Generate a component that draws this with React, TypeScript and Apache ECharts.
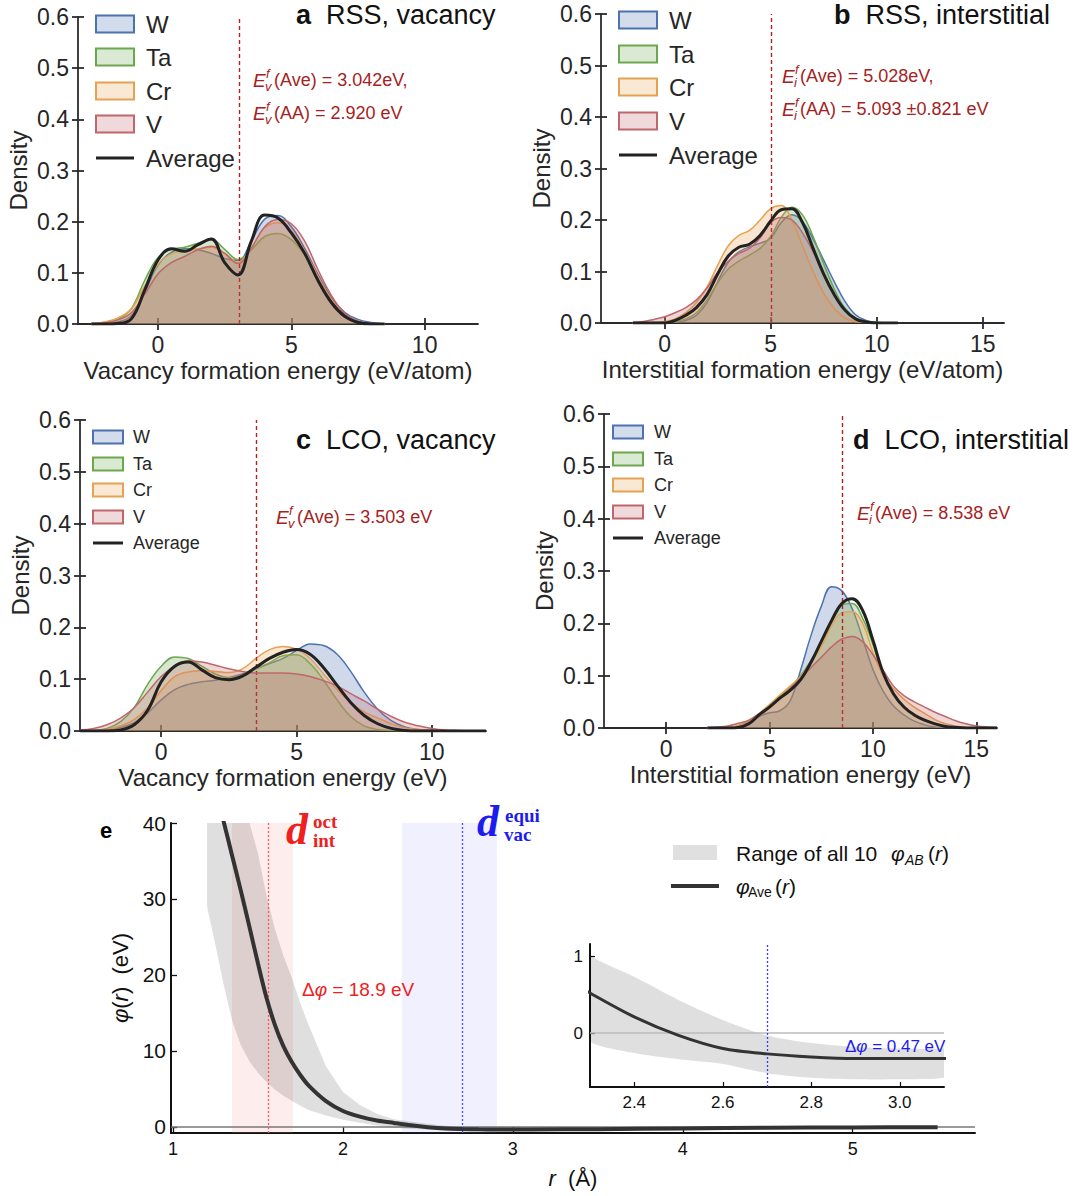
import React, { useEffect, useRef } from 'react';
import * as echarts from 'echarts';

const FONT = '"Liberation Sans", Arial, Helvetica, sans-serif';
const SERIF = '"Liberation Serif", "DejaVu Serif", serif';

const ELEMENTS = ['W', 'Ta', 'Cr', 'V'];
const EL_COLORS = ['#4c72b0', '#6ca74e', '#e6a253', '#c0676c'];

// ---------- panel a : RSS vacancy ----------
const A_X = [-2.5, -2, -1.5, -1, -0.5, 0, 0.5, 1, 1.5, 2, 2.5, 3, 3.5, 4, 4.5, 5, 5.5, 6, 6.5, 7, 7.5, 8, 8.5];
const A_W = [0, 0.001, 0.004, 0.016, 0.062, 0.115, 0.14, 0.147, 0.145, 0.138, 0.128, 0.124, 0.162, 0.205, 0.212, 0.19, 0.148, 0.097, 0.052, 0.023, 0.009, 0.003, 0];
const A_TA = [0.001, 0.003, 0.009, 0.03, 0.085, 0.13, 0.146, 0.15, 0.158, 0.165, 0.146, 0.126, 0.145, 0.171, 0.177, 0.165, 0.135, 0.09, 0.048, 0.018, 0.005, 0.001, 0];
const A_CR = [0.001, 0.004, 0.012, 0.03, 0.074, 0.117, 0.137, 0.143, 0.147, 0.15, 0.138, 0.12, 0.15, 0.188, 0.198, 0.182, 0.142, 0.093, 0.048, 0.018, 0.005, 0.001, 0];
const A_V = [0, 0.002, 0.008, 0.022, 0.058, 0.098, 0.12, 0.132, 0.145, 0.152, 0.138, 0.118, 0.148, 0.19, 0.204, 0.196, 0.162, 0.106, 0.056, 0.021, 0.006, 0.001, 0];
const A_AVG = [0, 0, 0.001, 0.01, 0.066, 0.125, 0.147, 0.142, 0.155, 0.166, 0.12, 0.096, 0.162, 0.213, 0.207, 0.178, 0.138, 0.085, 0.042, 0.015, 0.003, 0, 0];

// ---------- panel b : RSS interstitial ----------
const B_X = [-1.5, -1, -0.5, 0, 0.5, 1, 1.5, 2, 2.5, 3, 3.5, 4, 4.5, 5, 5.5, 6, 6.5, 7, 7.5, 8, 8.5, 9, 9.5, 10, 10.5, 11];
const B_W = [0, 0, 0, 0.001, 0.002, 0.005, 0.015, 0.04, 0.08, 0.118, 0.138, 0.148, 0.155, 0.165, 0.195, 0.21, 0.197, 0.163, 0.122, 0.08, 0.042, 0.016, 0.005, 0.001, 0, 0];
const B_TA = [0, 0, 0, 0.001, 0.003, 0.008, 0.02, 0.045, 0.078, 0.105, 0.12, 0.132, 0.145, 0.168, 0.205, 0.225, 0.21, 0.168, 0.115, 0.066, 0.029, 0.01, 0.003, 0.001, 0, 0];
const B_CR = [0, 0, 0.001, 0.003, 0.008, 0.02, 0.04, 0.07, 0.112, 0.15, 0.17, 0.18, 0.2, 0.222, 0.228, 0.2, 0.15, 0.1, 0.058, 0.028, 0.01, 0.003, 0.001, 0, 0, 0];
const B_V = [0.001, 0.003, 0.007, 0.012, 0.02, 0.03, 0.045, 0.068, 0.098, 0.12, 0.135, 0.145, 0.165, 0.195, 0.205, 0.2, 0.175, 0.138, 0.095, 0.055, 0.025, 0.008, 0.002, 0, 0, 0];
const B_AVG = [0, 0, 0, 0, 0.005, 0.015, 0.03, 0.055, 0.095, 0.13, 0.147, 0.153, 0.17, 0.198, 0.22, 0.222, 0.195, 0.145, 0.095, 0.055, 0.025, 0.008, 0.002, 0, 0, 0];

// ---------- panel c : LCO vacancy ----------
const C_X = [-3, -2.5, -2, -1.5, -1, -0.5, 0, 0.5, 1, 1.5, 2, 2.5, 3, 3.5, 4, 4.5, 5, 5.5, 6, 6.5, 7, 7.5, 8, 8.5, 9, 9.5, 10, 10.5, 11, 11.5, 12];
const C_W = [0, 0, 0.002, 0.007, 0.016, 0.035, 0.06, 0.08, 0.09, 0.095, 0.098, 0.103, 0.11, 0.12, 0.13, 0.14, 0.155, 0.168, 0.165, 0.148, 0.115, 0.075, 0.042, 0.02, 0.008, 0.003, 0.001, 0, 0, 0, 0];
const C_TA = [0, 0.001, 0.005, 0.018, 0.045, 0.09, 0.125, 0.143, 0.14, 0.125, 0.11, 0.103, 0.107, 0.12, 0.132, 0.145, 0.147, 0.13, 0.098, 0.06, 0.028, 0.01, 0.003, 0.001, 0, 0, 0, 0, 0, 0, 0];
const C_CR = [0, 0.001, 0.003, 0.01, 0.022, 0.045, 0.078, 0.105, 0.114, 0.116, 0.115, 0.113, 0.12, 0.14, 0.157, 0.163, 0.158, 0.14, 0.11, 0.08, 0.055, 0.037, 0.025, 0.014, 0.006, 0.003, 0.001, 0, 0, 0, 0];
const C_V = [0.002, 0.005, 0.012, 0.025, 0.045, 0.075, 0.105, 0.125, 0.135, 0.133, 0.127, 0.12, 0.115, 0.112, 0.112, 0.112, 0.11, 0.105, 0.097, 0.087, 0.072, 0.058, 0.042, 0.028, 0.017, 0.01, 0.005, 0.002, 0.001, 0, 0];
const C_AVG = [0, 0, 0, 0.002, 0.012, 0.04, 0.095, 0.125, 0.133, 0.118, 0.103, 0.099, 0.106, 0.123, 0.14, 0.152, 0.157, 0.148, 0.122, 0.088, 0.055, 0.03, 0.014, 0.005, 0.001, 0, 0, 0, 0, 0, 0];

// ---------- panel d : LCO interstitial ----------
const D_X = [2, 2.5, 3, 3.5, 4, 4.5, 5, 5.5, 6, 6.5, 7, 7.5, 8, 8.5, 9, 9.5, 10, 10.5, 11, 11.5, 12, 12.5, 13, 13.5, 14, 14.5, 15, 15.5, 16];
const D_W = [0, 0, 0, 0.002, 0.012, 0.022, 0.029, 0.033, 0.052, 0.11, 0.176, 0.232, 0.27, 0.262, 0.228, 0.172, 0.112, 0.07, 0.042, 0.025, 0.013, 0.006, 0.002, 0.001, 0, 0, 0, 0, 0];
const D_TA = [0, 0, 0.001, 0.004, 0.012, 0.025, 0.042, 0.06, 0.078, 0.1, 0.128, 0.165, 0.205, 0.235, 0.238, 0.21, 0.16, 0.1, 0.064, 0.04, 0.025, 0.015, 0.008, 0.003, 0.001, 0, 0, 0, 0];
const D_CR = [0, 0, 0.001, 0.005, 0.014, 0.028, 0.045, 0.063, 0.08, 0.098, 0.125, 0.155, 0.195, 0.22, 0.222, 0.2, 0.145, 0.1, 0.075, 0.055, 0.04, 0.028, 0.016, 0.008, 0.004, 0.001, 0, 0, 0];
const D_V = [0.001, 0.002, 0.004, 0.009, 0.015, 0.027, 0.041, 0.057, 0.076, 0.095, 0.115, 0.135, 0.155, 0.17, 0.175, 0.165, 0.14, 0.11, 0.08, 0.062, 0.05, 0.04, 0.03, 0.022, 0.014, 0.008, 0.004, 0.002, 0.001];
const D_AVG = [0, 0, 0, 0.001, 0.008, 0.025, 0.04, 0.057, 0.072, 0.092, 0.125, 0.165, 0.205, 0.238, 0.247, 0.225, 0.168, 0.105, 0.065, 0.04, 0.025, 0.015, 0.008, 0.003, 0.001, 0, 0, 0, 0];

// ---------- panel e : pair potentials ----------
const E_R = [1.2, 1.25, 1.3, 1.35, 1.4, 1.45, 1.5, 1.55, 1.6, 1.65, 1.7, 1.75, 1.8, 1.9, 2.0, 2.1, 2.2, 2.3, 2.4, 2.5, 2.6, 2.7, 2.8, 2.9, 3.0, 3.1, 3.5, 4.0, 4.5, 5.0, 5.5];
const E_AVG = [50, 44.5, 40, 35.5, 31, 26.3, 21.5, 17, 13.4, 10.6, 8.5, 6.8, 5.4, 3.4, 2.1, 1.35, 0.85, 0.52, 0.21, -0.03, -0.2, -0.27, -0.31, -0.33, -0.33, -0.33, -0.3, -0.2, -0.12, -0.07, -0.04];
const E_UP = [70, 64, 58, 52, 47, 42, 36, 30.5, 26, 22.5, 19.6, 16.2, 13.3, 8.0, 4.6, 2.9, 1.75, 1.01, 0.73, 0.43, 0.17, -0.03, -0.13, -0.18, -0.2, -0.2, -0.15, -0.1, -0.06, -0.03, -0.02];
const E_LO = [29, 23.9, 18.5, 13.8, 10.7, 8.6, 7.1, 5.9, 4.9, 4.1, 3.4, 2.8, 2.2, 1.5, 0.95, 0.55, 0.2, -0.11, -0.26, -0.34, -0.4, -0.52, -0.58, -0.6, -0.6, -0.58, -0.5, -0.35, -0.2, -0.12, -0.08];
const E_OCT = [1.347, 1.706];
const E_OCT_LINE = 1.56;
const E_VAC = [2.347, 2.906];
const E_VAC_LINE = 2.7;

const KDE_TICKS_Y = [0, 0.1, 0.2, 0.3, 0.4, 0.5, 0.6];

const GRIDS = [
  { left: 78, top: 17, width: 400, height: 307 },
  { left: 601, top: 14, width: 403, height: 309 },
  { left: 80, top: 420, width: 406, height: 311 },
  { left: 604, top: 414, width: 393, height: 314 },
  { left: 171, top: 823, width: 804, height: 310 },
  { left: 590, top: 944, width: 354, height: 143 },
];

const KDE_PANELS = [
  { xMin: -3, xMax: 12, xTicks: [0, 5, 10], xName: 'Vacancy formation energy (eV/atom)', xs: A_X, ys: [A_W, A_TA, A_CR, A_V], avg: A_AVG, vline: 3.042 },
  { xMin: -3, xMax: 16, xTicks: [0, 5, 10, 15], xName: 'Interstitial formation energy (eV/atom)', xs: B_X, ys: [B_W, B_TA, B_CR, B_V], avg: B_AVG, vline: 5.028 },
  { xMin: -3, xMax: 12, xTicks: [0, 5, 10], xName: 'Vacancy formation energy (eV)', xs: C_X, ys: [C_W, C_TA, C_CR, C_V], avg: C_AVG, vline: 3.503 },
  { xMin: -3, xMax: 16, xTicks: [0, 5, 10, 15], xName: 'Interstitial formation energy (eV)', xs: D_X, ys: [D_W, D_TA, D_CR, D_V], avg: D_AVG, vline: 8.538 },
];

const zip = (xs: number[], ys: number[]) => xs.map((x, i) => [x, ys[i]]);
const rgba = (hex: string, a: number) => {
  const n = parseInt(hex.slice(1), 16);
  return `rgba(${(n >> 16) & 255},${(n >> 8) & 255},${n & 255},${a})`;
};

const T = (x: number, y: number, text: string, o: any = {}) => ({
  type: 'text',
  x,
  y,
  silent: true,
  z: 100,
  style: {
    text,
    fill: o.fill ?? '#222',
    fontSize: o.size ?? 18,
    fontFamily: o.family ?? FONT,
    fontWeight: o.weight ?? 'normal',
    fontStyle: o.style ?? 'normal',
    align: o.align ?? 'left',
    textAlign: o.align ?? 'left',
    verticalAlign: o.va ?? 'middle',
    textVerticalAlign: o.va ?? 'middle',
    rich: o.rich,
  },
});

const AX = '#2b2b2b';
const TXT = '#262626';
const DARKRED = '#a52222';

function bandSeries(ax: number) {
  return {
    type: 'custom',
    name: 'Range of all 10 φAB(r)',
    xAxisIndex: ax,
    yAxisIndex: ax,
    silent: true,
    clip: true,
    z: 2,
    data: E_R.map((r, i) => [r, E_LO[i], E_UP[i]]),
    encode: { x: 0, y: [1, 2] },
    renderItem: (params: any, api: any) => {
      if (params.dataIndex !== 0) return null;
      const cs = params.coordSys;
      const rect = { x: cs.x, y: cs.y, width: cs.width, height: cs.height };
      const upper = E_R.map((r, i) => api.coord([r, E_UP[i]]));
      const lower = E_R.map((r, i) => api.coord([r, E_LO[i]])).reverse();
      const pts = echarts.graphic.clipPointsByRect(upper.concat(lower), rect);
      return {
        type: 'polygon',
        shape: { points: pts, smooth: ax === 9 ? 0.25 : 0 },
        style: { fill: 'rgba(0,0,0,0.125)' },
      };
    },
  };
}

function buildOption() {
  const xAxis: any[] = [];
  const yAxis: any[] = [];
  const series: any[] = [];
  const graphic: any[] = [];

  KDE_PANELS.forEach((p, i) => {
    const lab = { fontSize: 23, color: TXT, fontFamily: FONT };
    const tickStyle = { color: AX, width: 1.8 };
    xAxis.push({
      gridIndex: i, type: 'value', min: p.xMin, max: p.xMax, position: 'bottom',
      axisLine: { show: true, onZero: false, lineStyle: tickStyle },
      axisTick: { show: true, inside: false, length: 6, customValues: p.xTicks, lineStyle: tickStyle },
      axisLabel: { show: true, customValues: p.xTicks, margin: 9, ...lab },
      splitLine: { show: false },
      name: p.xName, nameLocation: 'middle', nameGap: 34,
      nameTextStyle: { fontSize: 24, color: TXT, fontFamily: FONT },
    });
    xAxis.push({
      gridIndex: i, type: 'value', min: p.xMin, max: p.xMax, position: 'bottom',
      axisLine: { show: false, onZero: false },
      axisTick: { show: true, inside: true, length: 6, customValues: p.xTicks, lineStyle: tickStyle },
      axisLabel: { show: false }, splitLine: { show: false },
    });
    yAxis.push({
      gridIndex: i, type: 'value', min: 0, max: 0.6, position: 'left',
      axisLine: { show: true, onZero: false, lineStyle: tickStyle },
      axisTick: { show: true, inside: false, length: 6, customValues: KDE_TICKS_Y, lineStyle: tickStyle },
      axisLabel: { show: true, customValues: KDE_TICKS_Y, margin: 9, formatter: (v: number) => v.toFixed(1), ...lab },
      splitLine: { show: false },
      name: 'Density', nameLocation: 'middle', nameGap: 48, nameRotate: 90,
      nameTextStyle: { fontSize: 24, color: TXT, fontFamily: FONT },
    });
    yAxis.push({
      gridIndex: i, type: 'value', min: 0, max: 0.6, position: 'left',
      axisLine: { show: false, onZero: false },
      axisTick: { show: true, inside: true, length: 6, customValues: KDE_TICKS_Y, lineStyle: tickStyle },
      axisLabel: { show: false }, splitLine: { show: false },
    });

    ELEMENTS.forEach((el, k) => {
      series.push({
        type: 'line', name: el, xAxisIndex: 2 * i, yAxisIndex: 2 * i,
        data: zip(p.xs, p.ys[k]), smooth: 0.4, symbol: 'none', silent: true,
        lineStyle: { color: EL_COLORS[k], width: 1.5 },
        areaStyle: { color: EL_COLORS[k], opacity: 0.27 },
        z: 2 + k,
      });
    });
    series.push({
      type: 'line', name: 'Average', xAxisIndex: 2 * i, yAxisIndex: 2 * i,
      data: zip(p.xs, p.avg), smooth: 0.4, symbol: 'none', silent: true,
      lineStyle: { color: '#222', width: 3 }, z: 10,
      markLine: {
        silent: true, symbol: ['none', 'none'], label: { show: false },
        lineStyle: { color: '#b22222', type: [4, 3], width: 1.4 },
        data: [{ xAxis: p.vline }],
      },
    });
  });

  // ----- panel e main axes (index 8) -----
  const eLine = { color: '#111', width: 2 };
  xAxis.push({
    gridIndex: 4, type: 'value', min: 0.988, max: 5.72, position: 'bottom',
    axisLine: { show: true, onZero: false, lineStyle: eLine },
    axisTick: { show: true, inside: true, length: 6, customValues: [1, 2, 3, 4, 5], lineStyle: { color: '#111', width: 1.3 } },
    axisLabel: { customValues: [1, 2, 3, 4, 5], fontSize: 18, color: '#111', fontFamily: FONT, margin: 7 },
    splitLine: { show: false },
    name: '{i|r}  (Å)', nameLocation: 'middle', nameGap: 34,
    nameTextStyle: { fontSize: 22, color: '#111', fontFamily: FONT, rich: { i: { fontStyle: 'italic', fontSize: 22, color: '#111', fontFamily: FONT } } },
  });
  yAxis.push({
    gridIndex: 4, type: 'value', min: -0.8, max: 40, position: 'left',
    axisLine: { show: true, onZero: false, lineStyle: eLine },
    axisTick: { show: true, inside: true, length: 6, customValues: [0, 10, 20, 30, 40], lineStyle: { color: '#111', width: 1.3 } },
    axisLabel: { customValues: [0, 10, 20, 30, 40], fontSize: 21, color: '#111', fontFamily: FONT, margin: 5 },
    splitLine: { show: false },
    name: '{i|φ}({i|r})  (eV)', nameLocation: 'middle', nameGap: 34, nameRotate: 90,
    nameTextStyle: { fontSize: 22, color: '#111', fontFamily: FONT, rich: { i: { fontStyle: 'italic', fontSize: 22, color: '#111', fontFamily: FONT } } },
  });
  // ----- inset axes (index 9) -----
  xAxis.push({
    gridIndex: 5, type: 'value', min: 2.3, max: 3.1, position: 'bottom',
    axisLine: { show: true, onZero: false, lineStyle: eLine },
    axisTick: { show: true, inside: true, length: 5, customValues: [2.4, 2.6, 2.8, 3.0], lineStyle: { color: '#111', width: 1.2 } },
    axisLabel: { customValues: [2.4, 2.6, 2.8, 3.0], fontSize: 17, color: '#111', fontFamily: FONT, margin: 7, formatter: (v: number) => v.toFixed(1) },
    splitLine: { show: false },
  });
  yAxis.push({
    gridIndex: 5, type: 'value', min: -0.7, max: 1.156, position: 'left',
    axisLine: { show: true, onZero: false, lineStyle: eLine },
    axisTick: { show: true, inside: true, length: 5, customValues: [0, 1], lineStyle: { color: '#111', width: 1.2 } },
    axisLabel: { customValues: [0, 1], fontSize: 17, color: '#111', fontFamily: FONT, margin: 7 },
    splitLine: { show: false },
  });

  [8, 9].forEach((ax) => {
    const isMain = ax === 8;
    series.push(bandSeries(ax));
    series.push({
      type: 'line', name: 'φAve(r)', xAxisIndex: ax, yAxisIndex: ax, data: zip(E_R, E_AVG),
      smooth: 0.3, symbol: 'none', silent: true,
      lineStyle: { color: '#333', width: isMain ? 4 : 3 }, z: 5,
      markArea: isMain ? {
        silent: true,
        data: [
          [{ xAxis: E_OCT[0], itemStyle: { color: 'rgba(250,140,140,0.16)' } }, { xAxis: E_OCT[1] }],
          [{ xAxis: E_VAC[0], itemStyle: { color: 'rgba(130,130,245,0.12)' } }, { xAxis: E_VAC[1] }],
        ],
      } : undefined,
      markLine: {
        silent: true, symbol: ['none', 'none'], label: { show: false },
        data: isMain ? [
          { yAxis: 0, lineStyle: { color: '#777', type: 'solid', width: 1.5 } },
          { xAxis: E_OCT_LINE, lineStyle: { color: '#ff5a5a', type: [2, 2], width: 1.3 } },
          { xAxis: E_VAC_LINE, lineStyle: { color: '#4a4aff', type: [2, 2], width: 1.3 } },
        ] : [
          { yAxis: 0, lineStyle: { color: '#bbbbbb', type: 'solid', width: 1.5 } },
          { xAxis: E_VAC_LINE, lineStyle: { color: '#3a3aff', type: [2, 2], width: 1.3 } },
        ],
      },
    });
  });

  // ----- legends (graphic) -----
  const LEGENDS = [
    { x: 96, ys: [24, 57, 91, 124, 158], w: 38, h: 17, tx: 146, fs: 24 },
    { x: 619, ys: [20, 54, 87, 121, 155], w: 38, h: 17, tx: 669, fs: 24 },
    { x: 93, ys: [437, 464, 490, 517, 543], w: 30, h: 13, tx: 133, fs: 18 },
    { x: 613, ys: [432, 459, 485, 512, 538], w: 30, h: 13, tx: 654, fs: 18 },
  ];
  LEGENDS.forEach((L) => {
    ELEMENTS.forEach((el, k) => {
      graphic.push({
        type: 'rect', silent: true, z: 100,
        shape: { x: L.x, y: L.ys[k] - L.h / 2, width: L.w, height: L.h },
        style: { fill: rgba(EL_COLORS[k], 0.25), stroke: EL_COLORS[k], lineWidth: 2 },
      });
      graphic.push(T(L.tx, L.ys[k], el, { size: L.fs, fill: TXT }));
    });
    graphic.push({
      type: 'line', silent: true, z: 100,
      shape: { x1: L.x, y1: L.ys[4], x2: L.x + L.w, y2: L.ys[4] },
      style: { stroke: '#222', lineWidth: 3 },
    });
    graphic.push(T(L.tx, L.ys[4], 'Average', { size: L.fs, fill: TXT }));
  });

  // ----- panel titles -----
  const titleRich = { b: { fontWeight: 'bold', fontSize: 27, fontFamily: FONT, fill: '#111' } };
  graphic.push(T(296, 15, '{b|a}  RSS, vacancy', { size: 27, fill: '#111', rich: titleRich }));
  graphic.push(T(834, 15, '{b|b}  RSS, interstitial', { size: 27, fill: '#111', rich: titleRich }));
  graphic.push(T(296, 440, '{b|c}  LCO, vacancy', { size: 27, fill: '#111', rich: titleRich }));
  graphic.push(T(853, 440, '{b|d}  LCO, interstitial', { size: 27, fill: '#111', rich: titleRich }));

  // ----- formation energy annotations -----
  const eAnn = (x: number, y: number, sub: string, rest: string) => {
    graphic.push(T(x, y, 'E', { size: 19, style: 'italic', fill: DARKRED }));
    graphic.push(T(x + 13, y - 7, 'f', { size: 13, style: 'italic', fill: DARKRED }));
    graphic.push(T(x + 12, y + 6, sub, { size: 13, style: 'italic', fill: DARKRED }));
    graphic.push(T(x + (sub === 'v' ? 21 : 18), y, rest, { size: 18, fill: DARKRED }));
  };
  eAnn(253, 80, 'v', '(Ave) = 3.042eV,');
  eAnn(253, 113, 'v', '(AA) = 2.920 eV');
  eAnn(782, 76, 'i', '(Ave) = 5.028eV,');
  eAnn(782, 109, 'i', '(AA) = 5.093 ±0.821 eV');
  eAnn(276, 517, 'v', '(Ave) = 3.503 eV');
  eAnn(857, 513, 'i', '(Ave) = 8.538 eV');

  // ----- panel e texts -----
  const RED = '#ee2020';
  const BLUE = '#1c1cf0';
  graphic.push(T(100, 830, 'e', { size: 22, weight: 'bold', fill: '#000' }));
  graphic.push(T(286, 829, 'd', { size: 44, weight: 'bold', style: 'italic', family: SERIF, fill: RED }));
  graphic.push(T(313, 821, 'oct', { size: 19, weight: 'bold', family: SERIF, fill: RED }));
  graphic.push(T(313, 840, 'int', { size: 19, weight: 'bold', family: SERIF, fill: RED }));
  graphic.push(T(477, 821, 'd', { size: 44, weight: 'bold', style: 'italic', family: SERIF, fill: BLUE }));
  graphic.push(T(505, 815, 'equi', { size: 19, weight: 'bold', family: SERIF, fill: BLUE }));
  graphic.push(T(504, 834, 'vac', { size: 19, weight: 'bold', family: SERIF, fill: BLUE }));
  graphic.push(T(302, 989, 'Δ{i|φ} = 18.9 eV', { size: 19, fill: RED, rich: { i: { fontStyle: 'italic', fontSize: 19, fill: RED, fontFamily: FONT } } }));
  graphic.push(T(845, 1046, 'Δ{i|φ} = 0.47 eV', { size: 17, fill: BLUE, rich: { i: { fontStyle: 'italic', fontSize: 17, fill: BLUE, fontFamily: FONT } } }));

  // legend of panel e
  graphic.push({ type: 'rect', silent: true, z: 100, shape: { x: 673, y: 845, width: 44, height: 15 }, style: { fill: '#e0e0e0' } });
  graphic.push(T(736, 853, 'Range of all 10', { size: 21, fill: '#111' }));
  graphic.push(T(891, 853, 'φ', { size: 21, style: 'italic', fill: '#111' }));
  graphic.push(T(905, 860, 'AB', { size: 14, style: 'italic', fill: '#111' }));
  graphic.push(T(928, 853, '({i|r})', { size: 21, fill: '#111', rich: { i: { fontStyle: 'italic', fontSize: 21, fill: '#111', fontFamily: FONT } } }));
  graphic.push({ type: 'line', silent: true, z: 100, shape: { x1: 671, y1: 886, x2: 719, y2: 886 }, style: { stroke: '#333', lineWidth: 4 } });
  graphic.push(T(736, 886, 'φ', { size: 21, style: 'italic', fill: '#111' }));
  graphic.push(T(748, 892, 'Ave', { size: 14, fill: '#111' }));
  graphic.push(T(775, 886, '({i|r})', { size: 21, fill: '#111', rich: { i: { fontStyle: 'italic', fontSize: 21, fill: '#111', fontFamily: FONT } } }));

  return {
    animation: false,
    backgroundColor: '#ffffff',
    textStyle: { fontFamily: FONT },
    grid: GRIDS.map((g) => ({ ...g, containLabel: false })),
    xAxis,
    yAxis,
    series,
    graphic,
  };
}

export default function App() {
  const ref = useRef<HTMLDivElement>(null);
  useEffect(() => {
    if (!ref.current) return;
    const chart = echarts.init(ref.current, undefined, { renderer: 'svg' });
    chart.setOption(buildOption() as any);
    return () => chart.dispose();
  }, []);
  return (
    <div
      ref={ref}
      style={{ position: 'absolute', left: 0, top: 0, width: 1081, height: 1196, background: '#fff' }}
    />
  );
}
